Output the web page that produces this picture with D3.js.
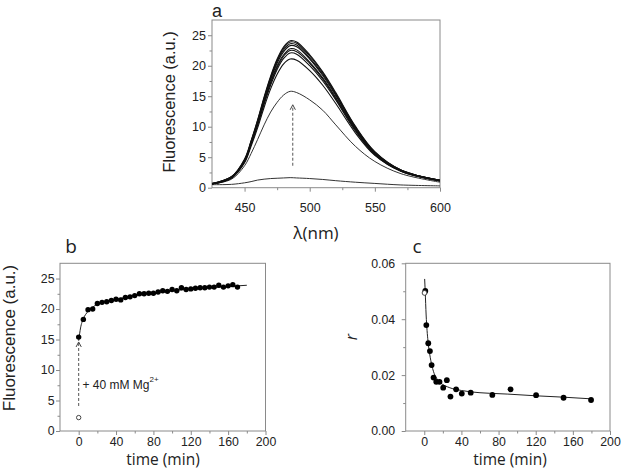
<!DOCTYPE html>
<html><head><meta charset="utf-8">
<script src="https://cdn.jsdelivr.net/npm/d3@7"></script>
<style>body{margin:0;background:#fff}svg{display:block}</style>
</head><body><svg id="fig" width="621" height="476"></svg>
<script>
// ---------- Panel a: emission spectra ----------
const wavelengths = [425,440,450,455,460,465,470,475,480,485,490,500,510,520,535,550,570,600];
const spectrum01 = [0.5,0.55,0.8,1.0,1.25,1.4,1.5,1.55,1.6,1.65,1.6,1.5,1.35,1.15,0.9,0.7,0.45,0.3];
const spectrum02 = [0.6,1.4,3.6,5.6,7.9,10.3,12.4,14.0,15.2,15.8,15.6,14.4,12.7,10.3,6.8,4.3,2.3,0.9];
const spectrum03 = [0.6,1.6,4.1,6.8,9.8,13.2,16.2,18.6,20.3,21.1,20.9,19.2,16.8,13.8,9.0,5.3,2.7,1.1];
const spectrum04 = [0.6,1.6,4.3,7.1,10.2,13.7,16.8,19.4,21.2,22.1,21.9,20.0,17.5,14.4,9.3,5.4,2.7,1.1];
const spectrum05 = [0.6,1.7,4.3,7.2,10.4,13.9,17.1,19.7,21.6,22.5,22.3,20.4,17.8,14.6,9.5,5.5,2.8,1.1];
const spectrum06 = [0.6,1.7,4.4,7.3,10.5,14.1,17.3,20.0,21.8,22.8,22.6,20.6,18.0,14.8,9.6,5.6,2.8,1.2];
const spectrum07 = [0.7,1.7,4.4,7.4,10.7,14.4,17.7,20.4,22.3,23.3,23.1,21.1,18.4,15.1,9.8,5.7,2.8,1.2];
const spectrum08 = [0.7,1.8,4.5,7.5,10.8,14.6,17.9,20.7,22.6,23.6,23.4,21.3,18.6,15.3,9.9,5.8,2.9,1.2];
const spectrum09 = [0.7,1.8,4.6,7.6,11.0,14.7,18.1,20.9,22.9,23.9,23.7,21.6,18.8,15.4,10.0,5.8,2.9,1.2];
const spectrum10 = [0.7,1.8,4.7,7.7,11.1,14.9,18.3,21.1,23.1,24.1,23.9,21.8,19.0,15.6,10.1,5.9,2.9,1.2];
const spectra = [spectrum01,spectrum02,spectrum03,spectrum04,spectrum05,spectrum06,spectrum07,spectrum08,spectrum09,spectrum10];
const arrowA = {x: 487, from: 3.6, to: 13.6};
const ticksAx = [450,500,550,600], minorAx = [475,525,575];
const ticksAy = [0,5,10,15,20,25], minorAy = [2.5,7.5,12.5,17.5,22.5];

// ---------- Panel b: fluorescence kinetics ----------
const timeB = [0,5,10,15,20,25,30,35,40,45,50,55,60,65,70,75,80,85,90,95,100,105,110,115,120,125,130,135,140,145,150,155,160,165,170];
const fluorB = [15.4,18.3,19.9,20.0,20.9,21.1,21.2,21.4,21.6,21.5,21.9,22.0,22.2,22.5,22.5,22.6,22.6,22.8,23.0,22.9,23.2,23.0,23.5,23.2,23.3,23.4,23.5,23.5,23.6,23.6,23.9,23.6,23.8,24.0,23.6];
const openB = [0, 2.2];
const fitTimeB = [0,2,5,10,15,20,30,40,60,80,100,120,140,160,180];
const fitFluorB = [14.8,16.9,18.4,19.6,20.3,20.8,21.3,21.6,22.2,22.6,23.0,23.3,23.5,23.7,23.9];
const arrowB = {x: 0, from: 4.1, to: 14.6};
const ticksBx = [0,40,80,120,160,200], minorBx = [20,60,100,140,180];
const ticksBy = [0,5,10,15,20,25], minorBy = [2.5,7.5,12.5,17.5,22.5];

// ---------- Panel c: anisotropy ----------
const timeC = [1.1,2.2,4.3,6.1,7.9,10,12.9,16.4,20.4,24.3,28.2,34.3,40.4,50,73.3,92.9,120.4,150,179.6];
const anisoC = [0.0501,0.0379,0.0314,0.0286,0.0236,0.0191,0.0176,0.0176,0.0155,0.0182,0.0123,0.0149,0.0134,0.0137,0.0129,0.0149,0.0128,0.0119,0.0111];
const openC = [0.3, 0.0494];
const fitTimeC = [0.4,1,2,3,4,6,8,10,13,18,25,30,40,50,70,90,120,150,180];
const fitAnisoC = [0.0544,0.0500,0.0415,0.0360,0.0322,0.0272,0.0237,0.0212,0.0190,0.0171,0.0158,0.0152,0.0145,0.0140,0.0135,0.0132,0.0126,0.0121,0.0115];
const ticksCx = [0,40,80,120,160,200], minorCx = [20,60,100,140,180];
const ticksCy = [0,0.02,0.04,0.06], minorCy = [0.01,0.03,0.05];

const svg = d3.select('#fig');
const AXC = '#8a8a8a', TXT = '#222';
const tickFont = '"Liberation Sans", Arial, sans-serif';
const titleFont = '"Open Sans", "DejaVu Sans", sans-serif';

function panel(o){
  const x = d3.scaleLinear().domain(o.xd).range([o.l, o.r]);
  const y = d3.scaleLinear().domain(o.yd).range([o.b, o.t]);
  const g = svg.append('g');
  const style = sel => {
    sel.select('.domain').remove();
    sel.selectAll('line').attr('stroke', AXC);
    sel.selectAll('text').attr('fill', TXT).style('font-family', tickFont).style('font-size', o.fs + 'px');
  };
  g.append('g').attr('transform', `translate(0,${o.b})`)
    .call(d3.axisBottom(x).tickValues(o.xt).tickSize(4).tickPadding(o.xpad).tickFormat(o.xf || d3.format('d'))).call(style);
  g.append('g').attr('transform', `translate(0,${o.b})`)
    .call(d3.axisBottom(x).tickValues(o.xm).tickSize(2.5).tickFormat('')).call(style);
  g.append('g').attr('transform', `translate(${o.l},0)`)
    .call(d3.axisLeft(y).tickValues(o.yt).tickSize(4).tickPadding(o.ypad).tickFormat(o.yf || d3.format('d'))).call(style);
  g.append('g').attr('transform', `translate(${o.l},0)`)
    .call(d3.axisLeft(y).tickValues(o.ym).tickSize(2.5).tickFormat('')).call(style);
  g.append('rect').attr('x', o.l).attr('y', o.t).attr('width', o.r - o.l).attr('height', o.b - o.t)
    .attr('fill', 'none').attr('stroke', AXC).attr('stroke-width', 1);
  return {x, y, g};
}

function dashedArrow(g, x, y, xv, y0, y1){
  const px = x(xv), pb = y(y0), pt = y(y1);
  g.append('line').attr('x1', px).attr('x2', px).attr('y1', pb).attr('y2', pt + 1)
    .attr('stroke', '#555').attr('stroke-width', 1).attr('stroke-dasharray', '3,2');
  g.append('path').attr('d', `M${px-2.6},${pt+5} L${px},${pt} L${px+2.6},${pt+5}`)
    .attr('fill', 'none').attr('stroke', '#444').attr('stroke-width', 1);
}

// Panel a
const A = panel({xd:[425,600], yd:[0,27.5], l:212, r:440, t:20, b:187.7, xt:ticksAx, xm:minorAx, yt:ticksAy, ym:minorAy, xpad:11, ypad:2, fs:12.5});
const lineA = d3.line().x((d,i) => A.x(wavelengths[i])).y(d => A.y(d)).curve(d3.curveCatmullRom.alpha(0.5));
spectra.forEach((s, k) => {
  A.g.append('path').attr('d', lineA(s)).attr('fill', 'none')
    .attr('stroke', k < 2 ? '#333' : '#111').attr('stroke-width', k < 2 ? 1 : 1.1);
});
dashedArrow(A.g, A.x, A.y, arrowA.x, arrowA.from, arrowA.to);
svg.append('text').attr('x', 217).attr('y', 16.5).attr('text-anchor', 'middle')
  .style('font-family', tickFont).style('font-size', '18px').attr('fill', TXT).text('a');
svg.append('text').attr('transform', 'translate(175,102) rotate(-90)').attr('text-anchor', 'middle')
  .style('font-family', tickFont).style('font-size', '16.4px').attr('fill', TXT).text('Fluorescence (a.u.)');
svg.append('text').attr('x', 316).attr('y', 239).attr('text-anchor', 'middle')
  .style('font-family', titleFont).style('font-size', '17px').attr('fill', TXT).text('λ(nm)');

// Panel b
const B = panel({xd:[-20,200], yd:[0,27.5], l:60, r:265.5, t:263.3, b:431, xt:ticksBx, xm:minorBx, yt:ticksBy, ym:minorBy, xpad:2, ypad:1.5, fs:12.3});
dashedArrow(B.g, B.x, B.y, arrowB.x, arrowB.from, arrowB.to);
B.g.append('path').attr('d', d3.line().x((d,i) => B.x(fitTimeB[i])).y(d => B.y(d)).curve(d3.curveMonotoneX)(fitFluorB))
  .attr('fill', 'none').attr('stroke', '#222').attr('stroke-width', 1);
B.g.selectAll('circle.pt').data(fluorB).join('circle').attr('class', 'pt')
  .attr('cx', (d,i) => B.x(timeB[i])).attr('cy', d => B.y(d)).attr('r', 2.7).attr('fill', '#000');
B.g.append('circle').attr('cx', B.x(openB[0])).attr('cy', B.y(openB[1])).attr('r', 2.2)
  .attr('fill', '#fff').attr('stroke', '#333').attr('stroke-width', 0.9);
const mg = svg.append('text').attr('x', 82.5).attr('y', 388.5).style('font-family', tickFont)
  .style('font-size', '12px').attr('fill', TXT);
mg.append('tspan').text('+ 40 mM Mg');
mg.append('tspan').attr('dy', -7).style('font-size', '8px').text('2+');
svg.append('text').attr('x', 71).attr('y', 253).attr('text-anchor', 'middle')
  .style('font-family', titleFont).style('font-size', '19px').attr('fill', TXT).text('b');
svg.append('text').attr('transform', 'translate(15,338) rotate(-90)').attr('text-anchor', 'middle')
  .style('font-family', tickFont).style('font-size', '17px').attr('fill', TXT).text('Fluorescence (a.u.)');
svg.append('text').attr('x', 163).attr('y', 465).attr('text-anchor', 'middle')
  .style('font-family', titleFont).style('font-size', '15.5px').attr('fill', TXT).text('time (min)');

// Panel c
const C = panel({xd:[-20,200], yd:[0,0.06], l:405.7, r:610, t:263.3, b:431, xt:ticksCx, xm:minorCx, yt:ticksCy, ym:minorCy, xpad:2, ypad:6.5, fs:12.3, yf:d3.format('.2f')});
C.g.append('path').attr('d', d3.line().x((d,i) => C.x(fitTimeC[i])).y(d => C.y(d)).curve(d3.curveMonotoneX)(fitAnisoC))
  .attr('fill', 'none').attr('stroke', '#222').attr('stroke-width', 1);
C.g.selectAll('circle.pt').data(anisoC).join('circle').attr('class', 'pt')
  .attr('cx', (d,i) => C.x(timeC[i])).attr('cy', d => C.y(d)).attr('r', 2.9).attr('fill', '#000');
C.g.append('circle').attr('cx', C.x(openC[0])).attr('cy', C.y(openC[1])).attr('r', 2.4)
  .attr('fill', '#fff').attr('stroke', '#333').attr('stroke-width', 0.9);
svg.append('text').attr('x', 417).attr('y', 253).attr('text-anchor', 'middle')
  .style('font-family', titleFont).style('font-size', '19px').attr('fill', TXT).text('c');
svg.append('text').attr('transform', 'translate(357,337) rotate(-90)').attr('text-anchor', 'middle')
  .style('font-family', titleFont).style('font-size', '16px').style('font-style', 'italic').attr('fill', TXT).text('r');
svg.append('text').attr('x', 510).attr('y', 465).attr('text-anchor', 'middle')
  .style('font-family', titleFont).style('font-size', '15.5px').attr('fill', TXT).text('time (min)');
</script></body></html>
